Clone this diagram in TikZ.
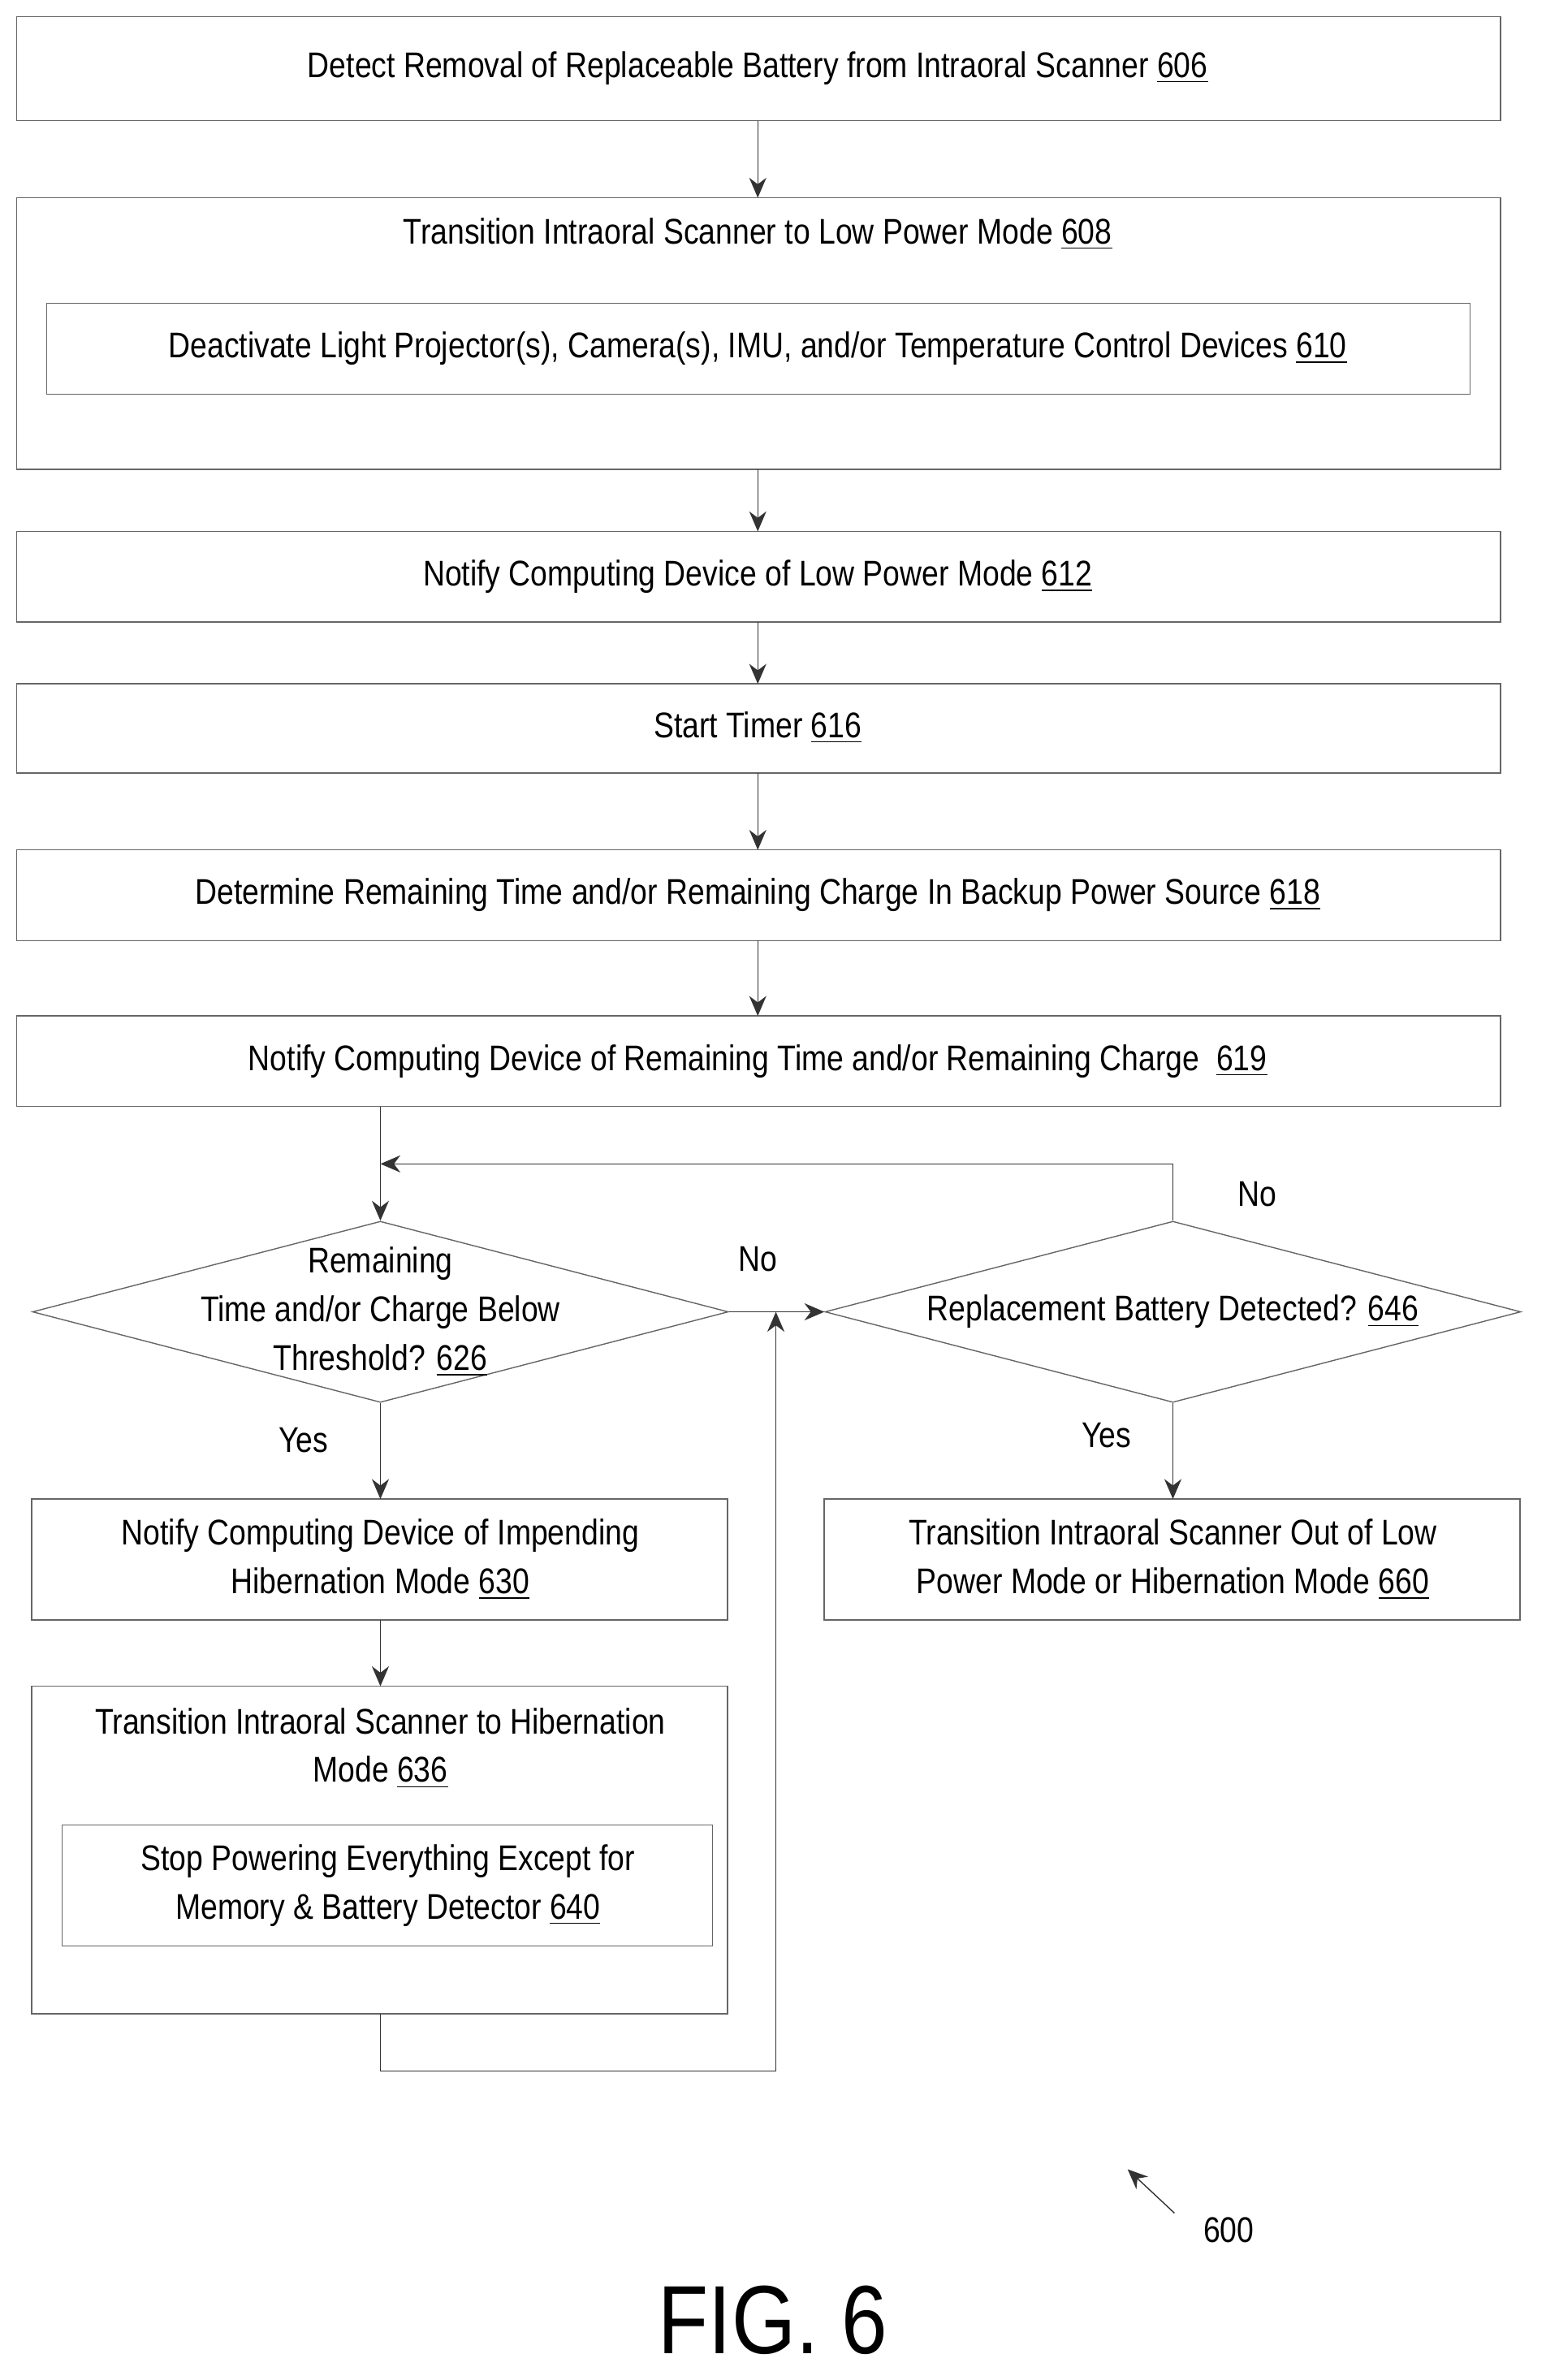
\documentclass[tikz,border=0pt]{standalone}
\usepackage{fontspec}
\setmainfont{Liberation Sans}[FakeStretch=0.85]
\usetikzlibrary{shapes.geometric,arrows.meta}
\tikzset{
    step-box/.style = {draw=black!60, thin, rectangle, minimum height=#1, inner sep=0pt},
    step-box/.default = 60,
    dia/.style = {draw=black!60, thin, diamond, aspect=3.84, minimum width=461*0.01859cm, minimum height=120*0.01859cm, inner sep=0pt, align=center},
    txt/.style = {font=\fontsize{12.5}{17}\selectfont, align=center},
    flow/.style = {draw=black!80, thin, -{Stealth[length=7pt,width=6pt]}},
}
\newcommand{\stepno}[1]{\underline{#1}}
\begin{document}
\begin{tikzpicture}[x=0.01859cm, y=-0.01859cm]
\useasboundingbox (0,0) rectangle (1024,1576.6);
% boxes
\draw[step-box] (11,11) rectangle (994,80);
\node[txt] (b606) at (502,45) {Detect Removal of Replaceable Battery from Intraoral Scanner \stepno{606}};
\coordinate (b606s) at (502,80);
\draw[step-box] (11,131) rectangle (994,311);
\coordinate (b608n) at (502,131);
\coordinate (b608s) at (502,311);
\node[txt] (b608) at (502,155) {Transition Intraoral Scanner to Low Power Mode \stepno{608}};
\draw[step-box] (31,201) rectangle (974,261);
\node[txt] (b610) at (502,231) {Deactivate Light Projector(s), Camera(s), IMU, and/or Temperature Control Devices \stepno{610}};
\draw[step-box] (11,352) rectangle (994,412);
\node[txt] (b612) at (502,382) {Notify Computing Device of Low Power Mode \stepno{612}};
\coordinate (b612n) at (502,352); \coordinate (b612s) at (502,412);
\draw[step-box] (11,453) rectangle (994,512);
\node[txt] (b616) at (502,482) {Start Timer \stepno{616}};
\coordinate (b616n) at (502,453); \coordinate (b616s) at (502,512);
\draw[step-box] (11,563) rectangle (994,623);
\node[txt] (b618) at (502,593) {Determine Remaining Time and/or Remaining Charge In Backup Power Source \stepno{618}};
\coordinate (b618n) at (502,563); \coordinate (b618s) at (502,623);
\draw[step-box] (11,673) rectangle (994,733);
\node[txt] (b619) at (502,703) {Notify Computing Device of Remaining Time and/or Remaining Charge~ \stepno{619}};
\coordinate (b619n) at (502,673); \coordinate (b619s) at (252,733);
% decisions
\node[dia] (d626) at (252,869) {};
\node[txt] at (252,869) {Remaining\\Time and/or Charge Below\\Threshold? \stepno{626}};
\node[dia] (d646) at (777,869) {};
\node[txt] at (777,869) {Replacement Battery Detected? \stepno{646}};
% lower boxes
\draw[step-box] (21,993) rectangle (482,1073);
\node[txt] (b630) at (252,1033) {Notify Computing Device of Impending\\Hibernation Mode \stepno{630}};
\coordinate (b630n) at (252,993); \coordinate (b630s) at (252,1073);
\draw[step-box] (21,1117) rectangle (482,1334);
\node[txt] (b636) at (252,1158) {Transition Intraoral Scanner to Hibernation\\Mode \stepno{636}};
\coordinate (b636n) at (252,1117); \coordinate (b636s) at (252,1334);
\draw[step-box] (41,1209) rectangle (472,1289);
\node[txt] (b640) at (257,1249) {Stop Powering Everything Except for\\Memory \& Battery Detector \stepno{640}};
\draw[step-box] (546,993) rectangle (1007,1073);
\node[txt] (b660) at (777,1033) {Transition Intraoral Scanner Out of Low\\Power Mode or Hibernation Mode \stepno{660}};
\coordinate (b660n) at (777,993);
% connectors
\draw[flow] (b606s) -- (b608n);
\draw[flow] (b608s) -- (b612n);
\draw[flow] (b612s) -- (b616n);
\draw[flow] (b616s) -- (b618n);
\draw[flow] (b618s) -- (b619n);
\draw[flow] (b619s) -- (d626.north);
\coordinate (loopin) at (252,771);
\draw[flow] (d646.north) |- (loopin);
\draw[flow] (d626.east) -- (d646.west);
\draw[flow] (d626.south) -- (b630n);
\draw[flow] (b630s) -- (b636n);
\draw[flow] (d646.south) -- (b660n);
\coordinate (join) at (514,869);
\draw[flow] (b636s) -- (252,1372) -| (join);
% labels
\node[txt] (lno1) at (833,791) {No};
\node[txt] (lno2) at (502,834) {No};
\node[txt] (lyes1) at (201,954) {Yes};
\node[txt] (lyes2) at (733,951) {Yes};
\node[txt] (l600) at (814,1477) {600};
\coordinate (a600) at (747,1437);
\draw[flow] (778,1466) -- (a600);
\node[font=\fontsize{34}{40}\selectfont] (fig) at (512,1537) {FIG. 6};
\end{tikzpicture}
\end{document}
